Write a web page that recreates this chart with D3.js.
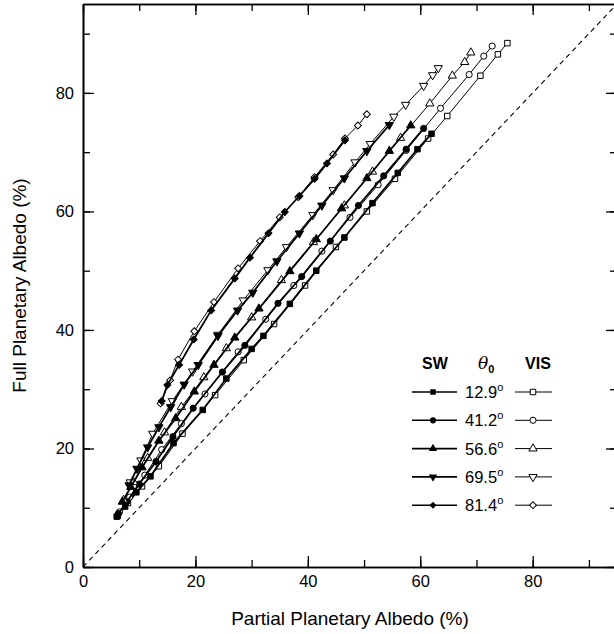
<!DOCTYPE html>
<html><head><meta charset="utf-8">
<script src="https://cdn.jsdelivr.net/npm/d3@7"></script>
<style>html,body{margin:0;padding:0;background:#fff;}svg{display:block;}</style>
</head><body>
<script>
// ---- data (Partial albedo %, Full albedo %) ----
const angles = ["12.9", "41.2", "56.6", "69.5", "81.4"];
const symbolsByAngle = ["square", "circle", "triangle", "triangleDown", "diamond"];
const xTicks = [0, 20, 40, 60, 80];
const yTicks = [0, 20, 40, 60, 80];

const sw129 = [[6.0,8.5],[7.5,10.2],[9.5,12.6],[12.0,15.3],[16.1,20.9],[21.3,26.5],[25.5,31.8],[30.0,36.8],[32.1,39.0],[36.8,44.4],[41.5,50.0],[46.5,55.6],[51.5,61.4],[56.0,66.5],[59.5,70.5],[62.0,73.1]];
const vis129 = [[6.2,8.6],[8.0,10.8],[10.5,13.6],[13.5,17.0],[17.7,22.5],[23.5,29.0],[28.6,34.9],[34.0,41.0],[39.5,47.5],[45.0,54.0],[50.5,60.0],[55.5,65.5],[61.4,72.3],[64.8,76.1],[70.7,82.9],[73.8,86.5],[75.5,88.4]];
const sw412 = [[6.3,9.0],[7.8,11.0],[10.0,14.0],[13.0,17.8],[16.0,22.0],[19.6,26.8],[24.8,32.9],[28.8,37.4],[34.7,44.5],[38.9,49.0],[44.0,55.0],[49.0,61.0],[53.5,66.0],[57.5,70.5],[60.6,74.0]];
const vis412 = [[6.5,9.3],[8.3,11.8],[11.0,15.5],[14.0,19.8],[17.5,24.2],[21.7,29.2],[27.6,36.3],[32.5,41.8],[37.5,47.5],[42.5,53.3],[47.5,59.0],[52.5,64.5],[57.5,70.3],[63.6,77.4],[68.7,83.1],[71.3,86.2],[72.8,87.9]];
const sw566 = [[7.0,11.0],[8.5,13.5],[10.5,16.8],[13.5,21.3],[16.5,25.1],[19.8,29.6],[23.3,34.1],[27.0,38.7],[31.3,43.6],[36.8,49.9],[41.5,55.3],[46.0,60.5],[50.5,65.6],[54.5,70.2],[58.3,74.5]];
const vis566 = [[7.2,11.3],[9.0,14.3],[11.5,18.4],[14.5,22.7],[17.5,27.0],[21.5,32.0],[25.5,36.9],[30.0,42.1],[35.3,48.4],[41.0,54.8],[46.5,61.0],[51.5,66.7],[56.5,72.4],[61.7,78.2],[65.7,82.9],[67.9,85.2],[69.0,86.8]];
const sw695 = [[8.2,13.8],[9.6,16.6],[11.5,20.2],[13.5,23.6],[15.6,27.0],[18.0,30.8],[20.5,34.1],[24.0,39.0],[27.5,43.3],[30.2,46.3],[34.5,51.6],[38.5,56.3],[42.5,61.0],[46.5,65.6],[50.5,70.2],[54.5,74.6]];
const vis695 = [[8.4,14.3],[10.3,18.0],[12.4,22.5],[15.9,28.0],[19.5,33.0],[24.0,39.2],[28.5,45.0],[32.9,50.1],[36.2,54.0],[40.9,59.4],[44.5,63.6],[48.4,68.3],[51.1,71.4],[55.3,76.0],[57.4,78.0],[60.6,81.2],[62.2,83.0],[63.2,84.2]];
const sw814 = [[14.0,28.0],[15.0,30.7],[17.1,34.1],[19.7,38.4],[22.8,43.3],[27.0,48.7],[29.7,52.2],[33.0,56.3],[35.9,59.9],[38.5,62.6],[41.2,65.5],[43.4,68.1],[46.6,72.0]];
const vis814 = [[13.8,27.6],[15.5,31.5],[16.9,35.0],[19.8,39.8],[23.3,44.7],[27.6,50.4],[31.5,55.0],[35.0,59.0],[38.3,62.4],[41.2,65.8],[44.5,69.6],[46.6,72.3],[48.9,74.5],[50.5,76.4]];

const swSeries = [sw129, sw412, sw566, sw695, sw814];
const visSeries = [vis129, vis412, vis566, vis695, vis814];

// ---- layout ----
const W = 614, H = 634;
const m = {left: 83, top: 4, right: -3, bottom: 67};
const svg = d3.select("body").append("svg").attr("width", W).attr("height", H)
  .style("font-family", "'Liberation Sans', Arial, Helvetica, sans-serif");

const x = d3.scaleLinear().domain([0, 95]).range([m.left, W - m.right]);
const y = d3.scaleLinear().domain([0, 95]).range([H - m.bottom, m.top]);

svg.append("clipPath").attr("id","c").append("rect")
  .attr("x", x(0)).attr("y", y(95)).attr("width", x(95)-x(0)).attr("height", y(0)-y(95));

// 1:1 dashed line
svg.append("line").attr("clip-path","url(#c)")
  .attr("x1", x(0)).attr("y1", y(0)).attr("x2", x(95)).attr("y2", y(95))
  .attr("stroke", "#000").attr("stroke-width", 1.1).attr("stroke-dasharray", "5,4");

// axes (ticks inward)
const minor = d3.range(0, 95, 10);
svg.append("g").attr("transform", `translate(0,${y(0)})`)
  .call(d3.axisTop(x).tickValues(minor).tickSize(7).tickFormat("").tickSizeOuter(0));
svg.append("g").attr("transform", `translate(0,${y(0)})`)
  .call(d3.axisTop(x).tickValues(xTicks).tickSize(11).tickFormat("").tickSizeOuter(0));
const bottomLabels = svg.append("g").attr("transform", `translate(0,${y(0)})`)
  .call(d3.axisBottom(x).tickValues(xTicks).tickSize(0).tickPadding(8).tickFormat(d3.format("d")));
bottomLabels.select(".domain").remove();
bottomLabels.selectAll("text").attr("font-size", 16.5).attr("fill","#000").style("font-family","inherit");

svg.append("g").attr("transform", `translate(${x(0)},0)`)
  .call(d3.axisRight(y).tickValues(minor).tickSize(7).tickFormat("").tickSizeOuter(0));
svg.append("g").attr("transform", `translate(${x(0)},0)`)
  .call(d3.axisRight(y).tickValues(yTicks).tickSize(11).tickFormat("").tickSizeOuter(0));
const leftLabels = svg.append("g").attr("transform", `translate(${x(0)},0)`)
  .call(d3.axisLeft(y).tickValues(yTicks).tickSize(0).tickPadding(9).tickFormat(d3.format("d")));
leftLabels.select(".domain").remove();
leftLabels.selectAll("text").attr("font-size", 16.5).attr("fill","#000").style("font-family","inherit");

svg.append("g").attr("transform", `translate(0,${y(95)})`)
  .call(d3.axisBottom(x).tickValues(minor).tickSize(7).tickFormat("").tickSizeOuter(0));
svg.append("g").attr("transform", `translate(0,${y(95)})`)
  .call(d3.axisBottom(x).tickValues(xTicks).tickSize(11).tickFormat("").tickSizeOuter(0));
svg.append("g").attr("transform", `translate(${x(95)},0)`)
  .call(d3.axisLeft(y).tickValues(minor).tickSize(7).tickFormat("").tickSizeOuter(0));
svg.append("g").attr("transform", `translate(${x(95)},0)`)
  .call(d3.axisLeft(y).tickValues(yTicks).tickSize(11).tickFormat("").tickSizeOuter(0));
svg.selectAll(".domain").attr("stroke-width", 1.6).attr("stroke", "#000");
svg.selectAll(".tick line").attr("stroke-width", 1.3).attr("stroke", "#000");

// axis titles
svg.append("text").attr("x", (x(0)+x(95))/2).attr("y", 625).attr("text-anchor","middle")
  .attr("font-size", 19).text("Partial Planetary Albedo (%)");
svg.append("text").attr("transform", `translate(26,${(y(0)+y(95))/2}) rotate(-90)`)
  .attr("text-anchor","middle").attr("font-size", 19).text("Full Planetary Albedo (%)");

// ---- marks ----
function sym(name, size) {
  const t = {square: d3.symbolSquare, circle: d3.symbolCircle, triangle: d3.symbolTriangle,
             triangleDown: d3.symbolTriangle, diamond: d3.symbolSquare}[name];
  return d3.symbol().type(t).size(size)();
}
function rot(name) { return name === "triangleDown" ? 180 : name === "diamond" ? 45 : 0; }
const symSize = {square: 30, circle: 30, triangle: 30, triangleDown: 30, diamond: 24};

const line = d3.line().x(d => x(d[0])).y(d => y(d[1]));
const plot = svg.append("g").attr("clip-path","url(#c)");

function drawSeries(data, name, filled, lw) {
  plot.append("path").datum(data).attr("d", line).attr("fill","none")
    .attr("stroke","#000").attr("stroke-width", lw);
  plot.selectAll(null).data(data).enter().append("path")
    .attr("d", sym(name, symSize[name]))
    .attr("transform", d => `translate(${x(d[0])},${y(d[1])}) rotate(${rot(name)})`)
    .attr("fill", filled ? "#000" : "#fff").attr("stroke","#000").attr("stroke-width", 1);
}
angles.forEach((a, i) => {
  drawSeries(visSeries[i], symbolsByAngle[i], false, 1.0);
  drawSeries(swSeries[i], symbolsByAngle[i], true, 1.8);
});

// ---- legend ----
const lg = svg.append("g");
lg.append("text").attr("x", 435).attr("y", 369).attr("text-anchor","middle")
  .attr("font-size", 16).attr("font-weight","bold").text("SW");
lg.append("text").attr("x", 538).attr("y", 369).attr("text-anchor","middle")
  .attr("font-size", 16).attr("font-weight","bold").text("VIS");
const th = lg.append("text").attr("x", 478).attr("y", 369).attr("font-size", 17)
  .attr("font-style","italic").attr("font-family","'DejaVu Serif', serif");
th.append("tspan").text("θ");
th.append("tspan").attr("dy", 4).attr("font-size", 11).attr("font-style","normal")
  .attr("font-weight","bold").attr("font-family","'Liberation Sans', Arial, sans-serif").text("0");

angles.forEach((a, i) => {
  const yy = 392 + i * 28.3;
  const name = symbolsByAngle[i];
  lg.append("line").attr("x1", 412).attr("x2", 457).attr("y1", yy).attr("y2", yy)
    .attr("stroke","#000").attr("stroke-width", 1.6);
  lg.append("path").attr("d", sym(name, symSize[name]))
    .attr("transform", `translate(433,${yy}) rotate(${rot(name)})`).attr("fill","#000");
  const t = lg.append("text").attr("x", 465).attr("y", yy + 6).attr("font-size", 16.5);
  t.append("tspan").text(a);
  t.append("tspan").attr("dy", -7).attr("font-size", 11).text("o");
  lg.append("line").attr("x1", 515).attr("x2", 552).attr("y1", yy).attr("y2", yy)
    .attr("stroke","#000").attr("stroke-width", 1.0);
  lg.append("path").attr("d", sym(name, symSize[name]))
    .attr("transform", `translate(533,${yy}) rotate(${rot(name)})`)
    .attr("fill","#fff").attr("stroke","#000").attr("stroke-width", 1);
});
</script>
</body></html>
